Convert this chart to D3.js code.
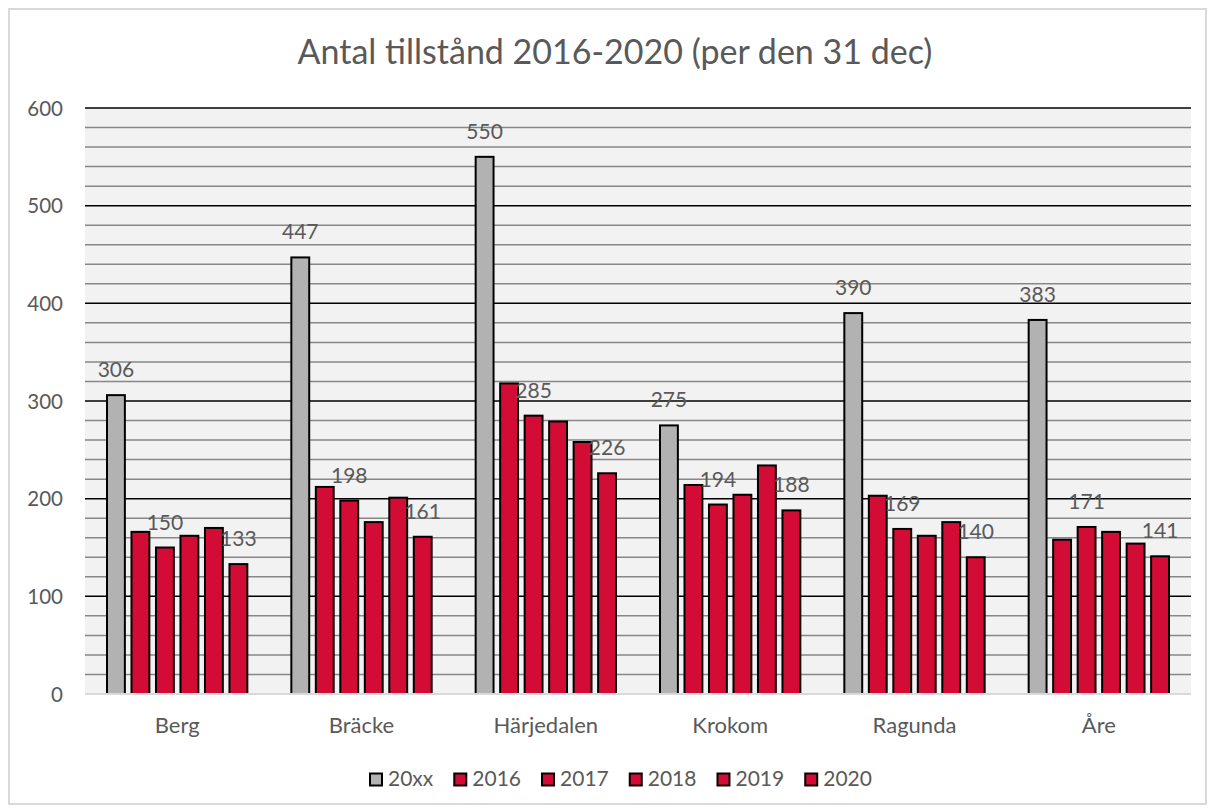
<!DOCTYPE html>
<html>
<head>
<meta charset="utf-8">
<script src="https://cdn.jsdelivr.net/npm/d3@7"></script>
<style>
  html, body { margin: 0; padding: 0; background: #ffffff; }
  svg { display: block; font-family: Lato, "Open Sans", sans-serif; }
</style>
</head>
<body>
<svg id="chart" width="1215" height="812"></svg>
<script>
// Antal tillstånd per kommun, 2016-2020 (per den 31 dec)
const categories = ["Berg", "Bräcke", "Härjedalen", "Krokom", "Ragunda", "Åre"];
const seriesNames = ["20xx", "2016", "2017", "2018", "2019", "2020"];
const values20xx = [306, 447, 550, 275, 390, 383];
const values2016 = [166, 212, 318, 214, 203, 158];
const values2017 = [150, 198, 285, 194, 169, 171];
const values2018 = [162, 176, 279, 204, 162, 166];
const values2019 = [170, 201, 258, 234, 176, 154];
const values2020 = [133, 161, 226, 188, 140, 141];
const labelledSeries = ["20xx", "2017", "2020"];
const yTicks = [0, 100, 200, 300, 400, 500, 600];
const titleText = "Antal tillstånd 2016-2020 (per den 31 dec)";

const seriesValues = {
  "20xx": values20xx, "2016": values2016, "2017": values2017,
  "2018": values2018, "2019": values2019, "2020": values2020
};
const seriesColor = s => s === "20xx" ? "#b2b2b2" : "#d20c35";
const textColor = "#595959";

const svg = d3.select("#chart");

// chart frame
svg.append("rect")
  .attr("x", 9).attr("y", 9).attr("width", 1197).attr("height", 795)
  .attr("fill", "#ffffff").attr("stroke", "#d9d9d9").attr("stroke-width", 2);

const plot = { left: 85, right: 1191, top: 108, bottom: 694 };

const x0 = d3.scaleBand().domain(categories).range([plot.left, plot.right]).padding(0);
const groupPad = 22;
const x1 = d3.scaleBand().domain(seriesNames)
  .range([groupPad, x0.bandwidth() - groupPad]).paddingInner(0.27).paddingOuter(0);
const y = d3.scaleLinear().domain([0, 600]).range([plot.bottom, plot.top]);

// plot background
svg.append("rect")
  .attr("x", plot.left).attr("y", plot.top)
  .attr("width", plot.right - plot.left).attr("height", plot.bottom - plot.top)
  .attr("fill", "#f2f2f2");

// minor gridlines every 20
const minor = d3.range(20, 600, 20).filter(v => v % 100 !== 0);
svg.append("g").selectAll("line").data(minor).join("line")
  .attr("x1", plot.left).attr("x2", plot.right)
  .attr("y1", d => y(d)).attr("y2", d => y(d))
  .attr("stroke", "#878787").attr("stroke-width", 1.5);

// major gridlines
svg.append("g").selectAll("line").data(yTicks.filter(v => v > 0)).join("line")
  .attr("x1", plot.left).attr("x2", plot.right)
  .attr("y1", d => y(d)).attr("y2", d => y(d))
  .attr("stroke", "#000000").attr("stroke-width", 1.5);

// y axis labels
const yAxis = d3.axisLeft(y).tickValues(yTicks).tickSize(0).tickPadding(0);
const yg = svg.append("g").attr("transform", `translate(63,0)`).call(yAxis);
yg.select(".domain").remove();
yg.selectAll("text")
  .attr("fill", textColor).style("font-size", "20.5px")
  .style("font-family", "Lato, sans-serif")
  .attr("dy", "0.35em");

// bars
const groups = svg.append("g").selectAll("g").data(categories).join("g")
  .attr("transform", d => `translate(${x0(d)},0)`);

groups.selectAll("rect")
  .data((c, i) => seriesNames.map(s => ({ s, v: seriesValues[s][i] })))
  .join("rect")
  .attr("x", d => x1(d.s))
  .attr("y", d => y(d.v))
  .attr("width", x1.bandwidth())
  .attr("height", d => y(0) - y(d.v))
  .attr("fill", d => seriesColor(d.s))
  .attr("stroke", "#000000").attr("stroke-width", 2);

// x axis line
svg.append("line")
  .attr("x1", plot.left).attr("x2", plot.right)
  .attr("y1", y(0)).attr("y2", y(0))
  .attr("stroke", "#d9d9d9").attr("stroke-width", 2);

// data labels
groups.selectAll("text.val")
  .data((c, i) => labelledSeries.map(s => ({ s, v: seriesValues[s][i] })))
  .join("text").attr("class", "val")
  .attr("x", d => x1(d.s) + x1.bandwidth() / 2)
  .attr("y", d => y(d.v) - 18)
  .attr("text-anchor", "middle")
  .attr("fill", textColor).style("font-size", "21px")
  .text(d => d.v);

// category labels
const xAxis = d3.axisBottom(x0).tickSize(0).tickPadding(0);
const xg = svg.append("g").attr("transform", `translate(0,733)`).call(xAxis);
xg.select(".domain").remove();
xg.selectAll("text")
  .attr("fill", textColor).style("font-size", "22px")
  .style("font-family", "Lato, sans-serif")
  .attr("dy", 0).attr("y", 0);

// title
svg.append("text")
  .attr("x", 615).attr("y", 64)
  .attr("text-anchor", "middle")
  .attr("fill", textColor).style("font-size", "34px")
  .text(titleText);

// legend
const legend = svg.append("g");
let lx = 369;
seriesNames.forEach(s => {
  legend.append("rect")
    .attr("x", lx + 1).attr("y", 773.5).attr("width", 12).attr("height", 12)
    .attr("fill", seriesColor(s)).attr("stroke", "#000000").attr("stroke-width", 2);
  const t = legend.append("text")
    .attr("x", lx + 19).attr("y", 786)
    .attr("fill", textColor).style("font-size", "21px")
    .text(s);
  lx += 19 + t.node().getComputedTextLength() + 20;
});
</script>
</body>
</html>
